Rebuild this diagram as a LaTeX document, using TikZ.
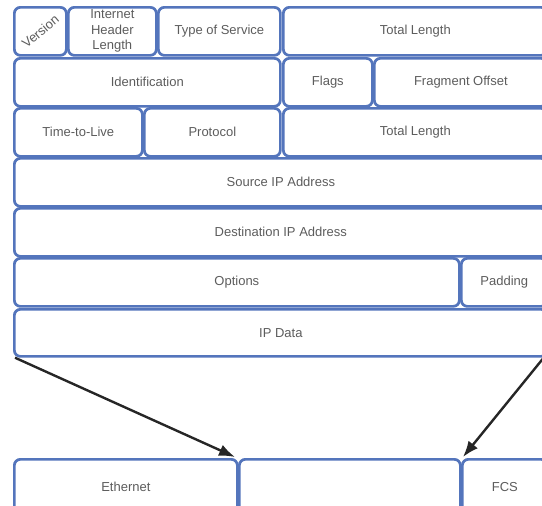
\documentclass[tikz,border=0pt]{standalone}
\usepackage{fontspec}
\setmainfont{Liberation Sans}
\usetikzlibrary{arrows.meta}
\definecolor{fieldblue}{RGB}{84,117,188}
\definecolor{labelgrey}{RGB}{92,92,92}
\definecolor{arrowgrey}{RGB}{38,38,38}
\begin{document}
\begin{tikzpicture}
	[x=1pt, y=-1pt,
	field/.style={rectangle, draw=fieldblue, line width=2.7pt, rounded corners=6pt,
		anchor=north west, inner sep=0pt, minimum height=48pt,
		text=labelgrey, align=center, font=\fontsize{13}{15.5}\selectfont},
	carry/.style={draw=arrowgrey, line width=2.4pt, -{Latex[length=16pt,width=12pt]}}]
	\useasboundingbox (0,0) rectangle (542,506);
	\clip (0,0) rectangle (542,506);
	% IP header
	\node[field, minimum width=52pt] (version) at (13,6) {};
	\node[rotate=40, text=labelgrey, font=\fontsize{13}{15.5}\selectfont] (versionlabel) at (version.center) {Version};
	\node[field, minimum width=88pt] (ihl) at (67,6) {Internet\\Header\\Length};
	\node[field, minimum width=122pt] (tos) at (157,6) {Type of Service};
	\node[field, minimum width=264pt] (totlen) at (282,6) {Total Length};
	\node[field, minimum width=266pt] (ident) at (13,57) {Identification};
	\node[field, minimum width=89pt] (flags) at (282,57) {Flags};
	\node[field, minimum width=173pt] (fragoff) at (373,57) {Fragment Offset};
	\node[field, minimum width=128pt] (ttl) at (13,107) {Time-to-Live};
	\node[field, minimum width=136pt] (proto) at (143,107) {Protocol};
	\node[field, minimum width=264pt] (totlenb) at (282,107) {Total Length};
	\node[field, minimum width=533pt] (srcip) at (13,157) {Source IP Address};
	\node[field, minimum width=533pt] (dstip) at (13,207) {Destination IP Address};
	\node[field, minimum width=445pt] (options) at (13,257) {Options};
	\node[field, minimum width=86pt] (padding) at (460,257) {Padding};
	\node[field, minimum width=533pt, minimum height=47pt] (ipdata) at (13,308) {IP Data};
	% Ethernet frame
	\node[field, minimum width=223pt, minimum height=55pt] (ethernet) at (13,458) {Ethernet};
	\node[field, minimum width=221pt, minimum height=55pt] (payload) at (238,458) {};
	\node[field, minimum width=85pt, minimum height=55pt] (fcs) at (461,458) {FCS};
	\draw[carry] ([xshift=2pt]ipdata.south west) -- ([xshift=-3pt,yshift=1pt]payload.north west);
	\draw[carry] ([xshift=-5pt]ipdata.south east) -- ([xshift=2pt,yshift=1pt]fcs.north west);
\end{tikzpicture}
\end{document}
